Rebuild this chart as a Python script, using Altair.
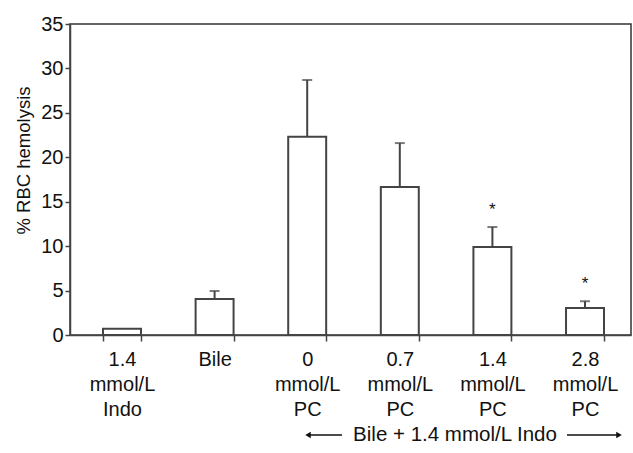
import altair as alt
import pandas as pd

# ---- data ----
categories = ["1.4|mmol/L|Indo", "Bile", "0|mmol/L|PC", "0.7|mmol/L|PC", "1.4|mmol/L|PC", "2.8|mmol/L|PC"]
means = [0.7, 4.05, 22.3, 16.65, 9.9, 3.04]
upper = [0.7, 4.95, 28.7, 21.6, 12.15, 3.8]
stars = ["", "", "", "", "*", "*"]
y_ticks = [0, 5, 10, 15, 20, 25, 30, 35]
group_label = ["Bile + 1.4 mmol/L Indo"]

df = pd.DataFrame({"cat": categories, "mean": means, "upper": upper, "star": stars})
ann = pd.DataFrame({"t": group_label})

FONT = "Liberation Sans"

x_enc = alt.X(
    "cat:N",
    sort=categories,
    scale=alt.Scale(paddingInner=0.59, paddingOuter=0.324, align=0.55),
    axis=alt.Axis(
        title=None, labelAngle=0, labelExpr="split(datum.label, '|')",
        labelFontSize=20, labelLineHeight=25,
        labelPadding=8, labelBaseline="top", tickBand="extent", tickSize=6,
    ),
)
y_scale = alt.Scale(domain=[0, 35], nice=False)

bars = alt.Chart(df).mark_bar(fill="white", stroke="#444", strokeWidth=2).encode(
    x=x_enc,
    y=alt.Y(
        "mean:Q", scale=y_scale,
        axis=alt.Axis(
            values=y_ticks, title="% RBC hemolysis", grid=False, tickSize=5,
            labelFontSize=20, labelPadding=2, titleFontSize=18.5, titleFontWeight="normal",
            titleAngle=270, titleX=-47, titleY=136, titleAlign="center", titleBaseline="middle",
        ),
    ),
)

err = alt.Chart(df).transform_filter("datum.upper > datum.mean")
err_rule = err.mark_rule(color="#444", strokeWidth=2).encode(
    x=alt.X("cat:N", sort=categories), y=alt.Y("mean:Q", scale=y_scale), y2="upper:Q"
)
err_cap = err.mark_tick(color="#444", thickness=2, size=10).encode(
    x=alt.X("cat:N", sort=categories), y=alt.Y("upper:Q", scale=y_scale)
)
star_txt = alt.Chart(df).mark_text(fontSize=17, dy=-17, font=FONT, color="#111").encode(
    x=alt.X("cat:N", sort=categories), y=alt.Y("upper:Q", scale=y_scale), text="star:N"
)

ann_text = alt.Chart(ann).mark_text(fontSize=20.5, font=FONT, color="#111", baseline="middle").encode(
    x=alt.value(385), y=alt.value(411), text="t:N"
)
ann_left = alt.Chart(ann).mark_rule(color="#111", strokeWidth=1.5).encode(
    x=alt.value(237), x2=alt.value(272), y=alt.value(411)
)
ann_right = alt.Chart(ann).mark_rule(color="#111", strokeWidth=1.5).encode(
    x=alt.value(497), x2=alt.value(550), y=alt.value(411)
)
head_left = alt.Chart(ann).mark_point(shape="triangle-left", filled=True, size=40, color="#111", opacity=1).encode(
    x=alt.value(238), y=alt.value(411)
)
head_right = alt.Chart(ann).mark_point(shape="triangle-right", filled=True, size=40, color="#111", opacity=1).encode(
    x=alt.value(549), y=alt.value(411)
)

chart = alt.layer(
    bars, err_rule, err_cap, star_txt, ann_text, ann_left, ann_right, head_left, head_right
).properties(
    width=561, height=311,
    autosize=alt.AutoSizeParams(type="none"),
    padding={"left": 70, "top": 24, "right": 2, "bottom": 118},
    background="white",
).configure_view(
    stroke="#333", strokeWidth=1.5
).configure_axis(
    domainColor="#444", domainWidth=1.5, tickColor="#444", tickWidth=1.5,
    labelColor="#111", titleColor="#111", labelFont=FONT, titleFont=FONT,
)

chart.save("out.html", embed_options={"renderer": "svg", "actions": False})
